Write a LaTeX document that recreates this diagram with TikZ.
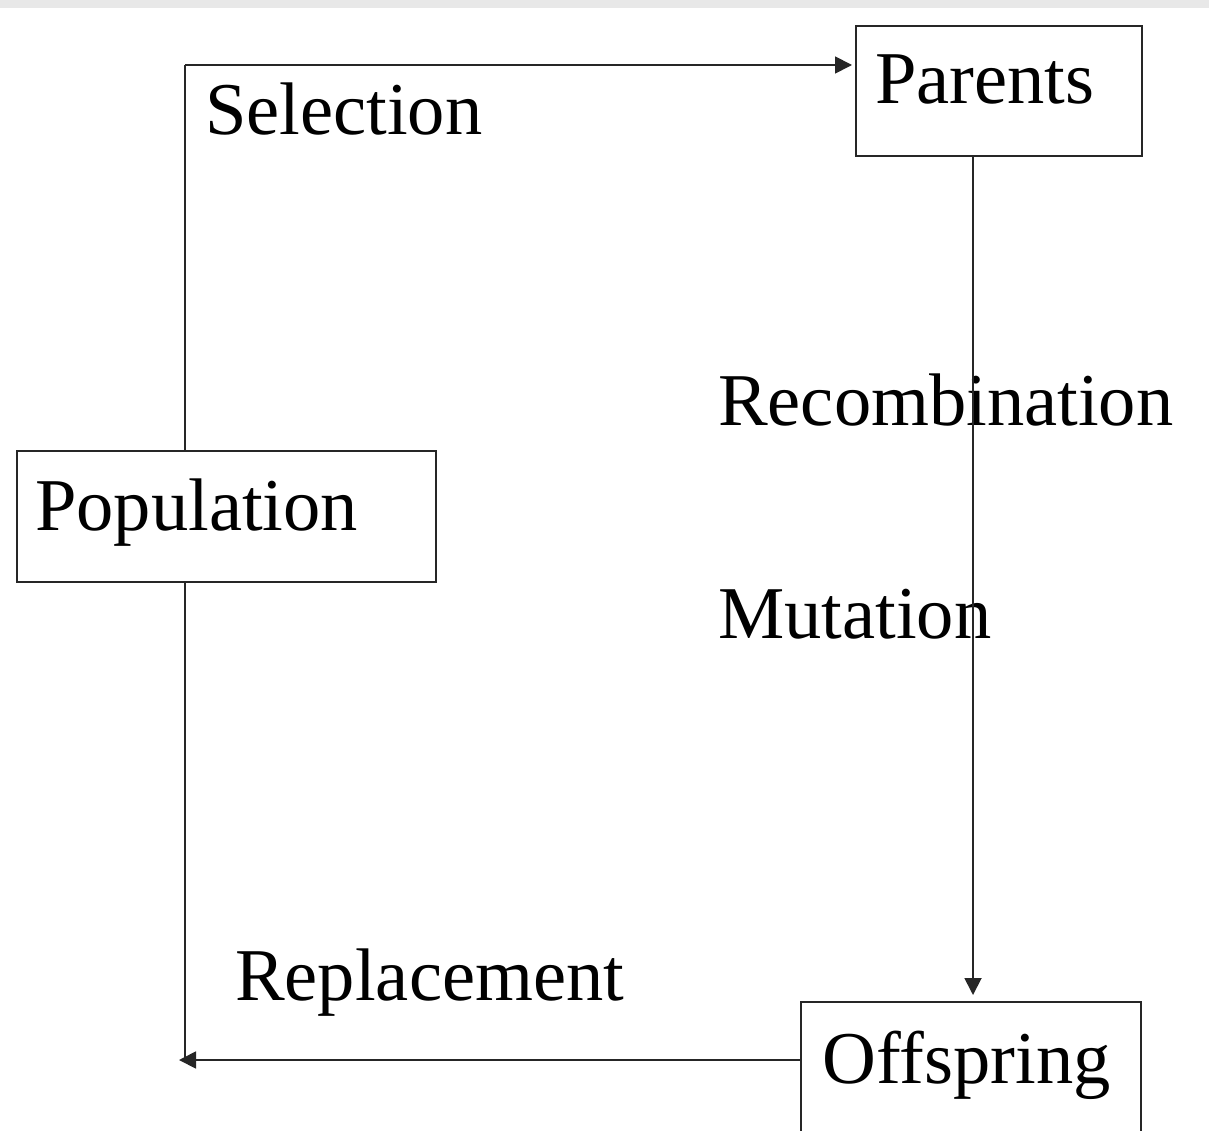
\documentclass[tikz,border=0pt]{standalone}
\usepackage{fontspec}
\setmainfont{Liberation Serif}
\usetikzlibrary{arrows.meta}
\begin{document}
\begin{tikzpicture}[x=1pt,y=-1pt,
  box/.style={draw=black!85,line width=1.8pt,inner sep=0pt,anchor=north west},
  word/.style={anchor=base west,inner sep=0pt,font=\fontsize{74.5}{80}\selectfont},
  link/.style={draw=black!85,line width=1.8pt},
  flow/.style={link,-{Triangle[length=17pt,width=17pt]}}]
\clip (0,0) rectangle (1209,1131);
\fill[white] (0,0) rectangle (1209,1131);
% faint strip along the upper edge
\fill[black!9] (0,0) rectangle (1209,8);

% boxes
\node[box,minimum width=286,minimum height=130] (par) at (855,25) {};
\node[box,minimum width=419,minimum height=131] (pop) at (16,450) {};
\node[box,minimum width=340,minimum height=160] (off) at (800,1001) {};

% box texts
\node[word] (partxt) at (875,104) {Parents};
\node[word] (poptxt) at (35,530) {Population};
\node[word] (offtxt) at (822,1083) {Offspring};

% operation labels
\node[word] (sel) at (205,135) {Selection};
\node[word] (rec) at (718,425) {Recombination};
\node[word] (mut) at (718,638) {Mutation};
\node[word] (rep) at (235,1000) {Replacement};

% routing points
\coordinate (selcorner) at (185,65);
\coordinate (recx) at (973,0);
\coordinate (repline) at (0,1060);
\coordinate (repcorner) at (185,1060);
\coordinate (reptip) at (179,1060);

% selection: population -> parents
\draw[link] (selcorner |- pop.north) -- (selcorner);
\draw[flow] (selcorner) -- ([xshift=-3pt]selcorner -| par.west);
% recombination and mutation: parents -> offspring
\draw[flow] (par.south -| recx) -- ([yshift=6pt]off.north -| recx);
% replacement: offspring -> population
\draw[link] (pop.south -| repcorner) -- (repcorner);
\draw[flow] (off.west |- repline) -- (reptip);
\end{tikzpicture}
\end{document}
